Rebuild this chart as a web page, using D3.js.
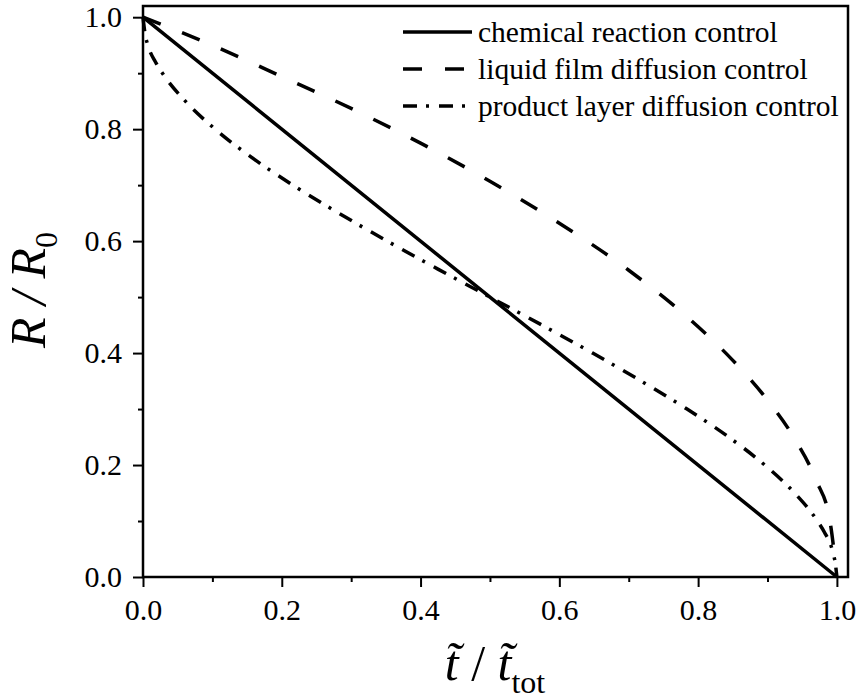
<!DOCTYPE html>
<html>
<head>
<meta charset="utf-8">
<script src="https://cdn.jsdelivr.net/npm/d3@7"></script>
<style>
  body { margin: 0; background: #fff; }
  text { font-family: "Liberation Serif", "Times New Roman", serif; fill: #000; }
</style>
</head>
<body>
<div id="chart"></div>
<script>
// values (t / t_tot against R / R0)
const seriesNames = ["chemical reaction control", "liquid film diffusion control", "product layer diffusion control"];

const chemT = [0, 0.5, 1.0];
const chemR = [1.0, 0.5, 0.0];

const filmT = [0, 0.1, 0.2, 0.3, 0.4, 0.5, 0.6, 0.7, 0.8, 0.85, 0.9, 0.94, 0.97, 0.99, 1.0];
const filmR = [1.0, 0.95, 0.894, 0.837, 0.775, 0.707, 0.632, 0.548, 0.447, 0.387, 0.316, 0.245, 0.173, 0.1, 0.0];

const layerT = [0, 0.003, 0.007, 0.018, 0.028, 0.061, 0.104, 0.156, 0.216, 0.282, 0.352, 0.425, 0.5,
                0.575, 0.648, 0.718, 0.784, 0.844, 0.896, 0.939, 0.972, 0.982, 0.993, 0.997];
const layerR = [1.0, 0.97, 0.95, 0.92, 0.9, 0.85, 0.8, 0.75, 0.7, 0.65, 0.6, 0.55, 0.5,
                0.45, 0.4, 0.35, 0.3, 0.25, 0.2, 0.15, 0.1, 0.08, 0.05, 0.03];

const majorTicks = [0, 0.2, 0.4, 0.6, 0.8, 1.0];
const minorTicks = [0.1, 0.3, 0.5, 0.7, 0.9];

const width = 859, height = 700;
const plot = {left: 143, right: 848, top: 6, bottom: 577};
const serif = "'Liberation Serif', 'Times New Roman', serif";

const svg = d3.select("#chart")
    .append("svg")
    .attr("width", width)
    .attr("height", height);

svg.append("rect")
    .attr("width", width)
    .attr("height", height)
    .attr("fill", "#fff");

const x = d3.scaleLinear()
    .domain([0, 1.016])
    .range([plot.left, plot.right]);

const y = d3.scaleLinear()
    .domain([0, 1.02])
    .range([plot.bottom, plot.top]);

// x axis
svg.append("g")
    .attr("transform", `translate(0,${plot.bottom})`)
    .call(d3.axisBottom(x).tickValues(minorTicks).tickSize(5).tickFormat(""))
    .call(g => g.select(".domain").remove());

svg.append("g")
    .attr("transform", `translate(0,${plot.bottom})`)
    .call(d3.axisBottom(x).tickValues(majorTicks).tickSize(10).tickPadding(12).tickFormat(d3.format(".1f")))
    .call(g => g.select(".domain").remove())
    .attr("font-size", 30)
    .attr("font-family", serif);

// y axis
svg.append("g")
    .attr("transform", `translate(${plot.left},0)`)
    .call(d3.axisLeft(y).tickValues(minorTicks).tickSize(5).tickFormat(""))
    .call(g => g.select(".domain").remove());

svg.append("g")
    .attr("transform", `translate(${plot.left},0)`)
    .call(d3.axisLeft(y).tickValues(majorTicks).tickSize(10).tickPadding(11).tickFormat(d3.format(".1f")))
    .call(g => g.select(".domain").remove())
    .attr("font-size", 30)
    .attr("font-family", serif);

svg.selectAll(".tick line")
    .attr("stroke", "#000")
    .attr("stroke-width", 2);

svg.selectAll(".tick text")
    .style("font-family", serif);

// curves
const line = d3.line()
    .x(d => x(d[0]))
    .y(d => y(d[1]))
    .curve(d3.curveMonotoneX);

const curves = [
    {t: chemT, r: chemR, dash: null},
    {t: filmT, r: filmR, dash: "19,23"},
    {t: layerT, r: layerR, dash: "14,9,3,10"}
];

svg.append("g")
    .selectAll("path")
    .data(curves)
    .join("path")
    .attr("d", c => line(c.t.map((t, i) => [t, c.r[i]])))
    .attr("fill", "none")
    .attr("stroke", "#000")
    .attr("stroke-width", 3.5)
    .attr("stroke-dasharray", c => c.dash);

// frame
svg.append("rect")
    .attr("x", plot.left)
    .attr("y", plot.top)
    .attr("width", plot.right - plot.left)
    .attr("height", plot.bottom - plot.top)
    .attr("fill", "none")
    .attr("stroke", "#000")
    .attr("stroke-width", 2.5);

// legend
const legend = svg.append("g")
    .selectAll("g")
    .data(curves)
    .join("g")
    .attr("transform", (d, i) => `translate(403,${32 + i * 37})`);

legend.append("line")
    .attr("x1", 0)
    .attr("x2", 69)
    .attr("stroke", "#000")
    .attr("stroke-width", 3.5)
    .attr("stroke-dasharray", d => d.dash);

legend.append("text")
    .attr("x", 75)
    .attr("y", 10)
    .attr("font-size", 29.5)
    .text((d, i) => seriesNames[i]);

// y axis title
const yTitle = svg.append("text")
    .attr("transform", "translate(45,290) rotate(-90)")
    .attr("text-anchor", "middle")
    .attr("font-size", 50);
yTitle.append("tspan").attr("font-style", "italic").text("R / R");
yTitle.append("tspan").attr("font-size", 32).attr("dy", 12).text("0");

// x axis title, tilde as combining mark on each t
const xTitle = svg.append("text")
    .attr("x", 495)
    .attr("y", 680)
    .attr("text-anchor", "middle")
    .attr("font-size", 50);
xTitle.append("tspan").attr("font-style", "italic").text("t\u0303");
xTitle.append("tspan").text(" / ");
xTitle.append("tspan").attr("font-style", "italic").text("t\u0303");
xTitle.append("tspan").attr("font-size", 32).attr("dy", 13).text("tot");
</script>
</body>
</html>
